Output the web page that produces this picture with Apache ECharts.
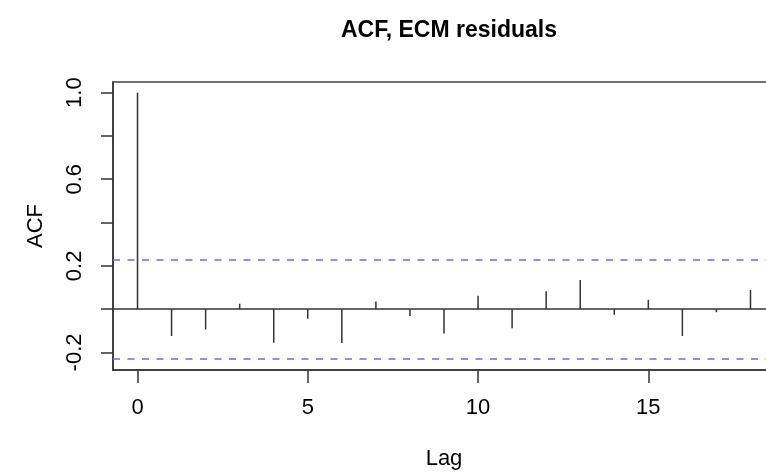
<!DOCTYPE html>
<html>
<head>
<meta charset="utf-8">
<script src="https://cdn.jsdelivr.net/npm/echarts@6/dist/echarts.min.js"></script>
<style>
  html, body { margin: 0; padding: 0; background: #fff; }
  #acf-chart { width: 766px; height: 474px; }
</style>
</head>
<body>
<div id="acf-chart"></div>
<script>
const lags = [0, 1, 2, 3, 4, 5, 6, 7, 8, 9, 10, 11, 12, 13, 14, 15, 16, 17, 18];
const acfValues = [1.0, -0.124, -0.094, 0.025, -0.155, -0.044, -0.156, 0.035, -0.032, -0.113,
  0.062, -0.088, 0.083, 0.135, -0.026, 0.043, -0.124, -0.014, 0.089];
const ciBound = 0.232;
const xTicks = [0, 5, 10, 15];
const yTicks = [-0.2, 0, 0.2, 0.4, 0.6, 0.8, 1.0];
const yLabels = [-0.2, 0.2, 0.6, 1.0];

const font = "Liberation Sans";

const option = {
  animation: false,
  title: {
    text: "ACF, ECM residuals",
    left: 444,
    textAlign: "center",
    top: 14,
    textStyle: { fontFamily: font, fontSize: 23, fontWeight: "bold", color: "#000" },
  },
  grid: {
    left: 113,
    top: 82,
    width: 662,
    height: 288,
    outerBoundsMode: "none", // keep the box where R put it
    containLabel: false,
    show: true,
    borderColor: "#444",
    borderWidth: 1.5,
  },
  xAxis: {
    type: "value",
    min: -0.72,
    max: 18.72,
    name: "Lag",
    nameLocation: "middle",
    nameGap: 78,
    nameTextStyle: { fontFamily: font, fontSize: 22, color: "#000" },
    axisLine: { show: true, onZero: false, lineStyle: { color: "#333", width: 1.5 } },
    axisTick: { show: true, inside: false, length: 13, customValues: xTicks, lineStyle: { color: "#333", width: 1.5 } },
    axisLabel: { customValues: xTicks, margin: 27, fontFamily: font, fontSize: 22, color: "#000" },
    splitLine: { show: false },
  },
  yAxis: {
    type: "value",
    min: -0.281,
    max: 1.049,
    name: "ACF",
    nameLocation: "middle",
    nameGap: 66,
    nameTextStyle: { fontFamily: font, fontSize: 22, color: "#000" },
    axisLine: { show: true, onZero: false, lineStyle: { color: "#333", width: 1.5 } },
    axisTick: { show: true, inside: false, length: 12, customValues: yTicks, lineStyle: { color: "#333", width: 1.5 } },
    axisLabel: {
      customValues: yLabels,
      rotate: 90,
      margin: 27,
      fontFamily: font,
      fontSize: 22,
      color: "#000",
      formatter: (v) => v.toFixed(1),
    },
    splitLine: { show: false },
  },
  series: [
    {
      type: "custom",
      data: lags.map((l, i) => [l, acfValues[i]]),
      renderItem: function (params, api) {
        const base = api.coord([api.value(0), 0]);
        const top = api.coord([api.value(0), api.value(1)]);
        return {
          type: "line",
          shape: { x1: base[0], y1: base[1], x2: top[0], y2: top[1] },
          style: { stroke: "#333", lineWidth: 1.5 },
        };
      },
      markLine: {
        silent: true,
        symbol: "none",
        label: { show: false },
        data: [
          { yAxis: 0, lineStyle: { type: "solid", color: "#333", width: 1.5 } },
          { yAxis: ciBound, lineStyle: { type: [7, 7.5], color: "#6a6af0", width: 1.5 } },
          { yAxis: -ciBound, lineStyle: { type: [7, 7.5], color: "#6a6af0", width: 1.5 } },
        ],
      },
    },
  ],
};

const myChart = echarts.init(document.getElementById("acf-chart"));
myChart.setOption(option);
</script>
</body>
</html>
